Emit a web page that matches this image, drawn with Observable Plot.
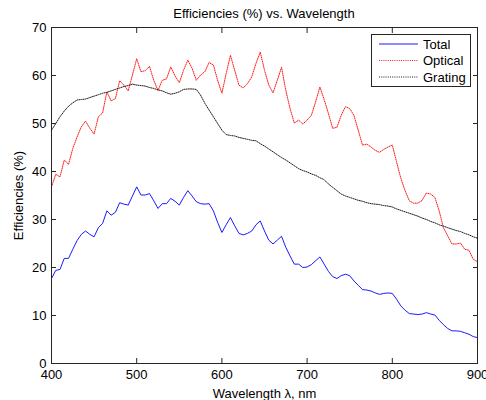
<!DOCTYPE html>
<html>
<head>
<meta charset="utf-8">
<script src="https://cdn.jsdelivr.net/npm/d3@7"></script>
<script src="https://cdn.jsdelivr.net/npm/@observablehq/plot@0.6"></script>
<style>
  body { margin: 0; background: #fff; font-family: "Liberation Sans", Arial, sans-serif; }
  #wrap { position: relative; width: 486px; height: 400px; }
  #title { height: 20px; padding-left: 51px; padding-right: 9px; text-align: center; font-size: 13px; line-height: 27px; color: #000; white-space: nowrap; }
  #legend { position: absolute; left: 371px; top: 34px; }
  #legend svg { display: block; }
</style>
</head>
<body>
<div id="wrap">
  <div id="title">Efficiencies (%) vs. Wavelength</div>
  <div id="chart"></div>
  <div id="legend"></div>
</div>
<script>
// Wavelength grid (nm), sampled every 5 nm
const wavelength = d3.range(400, 901, 5);

// Efficiencies (%) per wavelength
const total = [
  17.7, 19.4, 19.6, 21.9, 21.9, 23.8, 25.6, 26.9, 27.6, 26.9,
  26.4, 28.3, 29.2, 31.8, 30.9, 31.5, 33.5, 33.2, 33.0, 34.9,
  36.8, 35.1, 35.1, 35.4, 33.9, 32.3, 33.3, 33.3, 34.4, 33.8,
  33.0, 34.6, 36.0, 34.9, 33.7, 33.3, 33.2, 33.3, 31.8, 29.4,
  27.3, 28.9, 30.4, 28.7, 27.1, 26.8, 27.1, 27.6, 28.9, 29.7,
  27.6, 25.7, 24.9, 25.7, 26.5, 24.2, 22.4, 20.7, 20.7, 20.0,
  20.1, 20.6, 21.4, 22.2, 20.7, 19.2, 18.1, 17.7, 18.3, 18.6,
  18.3, 17.2, 16.3, 15.4, 15.3, 15.1, 14.7, 14.4, 14.6, 14.7,
  14.6, 13.4, 12.0, 11.1, 10.4, 10.3, 10.2, 10.3, 10.6, 10.3,
  10.1, 9.0, 8.1, 7.3, 6.8, 6.8, 6.7, 6.4, 6.1, 5.6,
  5.4
];
const optical = [
  36.8, 39.4, 38.9, 42.4, 41.5, 44.8, 47.2, 49.3, 50.5, 49.0,
  47.8, 51.4, 52.2, 56.6, 54.7, 55.2, 58.9, 58.0, 56.8, 60.1,
  63.5, 60.8, 61.0, 61.9, 59.0, 56.9, 59.0, 59.3, 61.8, 59.9,
  58.5, 61.1, 63.2, 61.5, 59.0, 60.1, 60.8, 62.7, 62.2, 59.0,
  56.3, 60.4, 64.2, 61.1, 58.0, 57.4, 58.3, 59.7, 62.5, 64.9,
  61.1, 58.0, 56.4, 59.0, 61.7, 56.9, 53.1, 50.1, 50.7, 49.9,
  50.7, 51.7, 54.5, 57.6, 55.0, 52.1, 49.0, 49.2, 51.7, 53.5,
  53.1, 51.7, 48.6, 45.5, 45.7, 45.1, 44.4, 44.0, 44.6, 45.1,
  45.5, 42.0, 38.6, 36.0, 33.9, 33.4, 33.4, 34.0, 35.5, 35.3,
  34.6, 31.8, 28.3, 26.6, 24.9, 24.9, 25.1, 23.8, 23.6, 21.7,
  21.2
];
const grating = [
  48.6, 50.0, 51.4, 52.6, 53.6, 54.3, 54.9, 55.0, 55.1, 55.4,
  55.7, 56.0, 56.3, 56.5, 56.8, 57.1, 57.4, 57.7, 57.9, 58.2,
  58.0, 57.9, 57.8, 57.5, 57.3, 57.0, 56.8, 56.4, 56.1, 56.3,
  56.6, 57.1, 57.2, 57.2, 57.1, 55.9, 54.2, 52.8, 51.4, 50.0,
  48.6, 47.7, 47.5, 47.4, 47.1, 46.9, 46.7, 46.5, 46.4, 45.8,
  45.3, 44.7, 44.1, 43.5, 42.9, 42.4, 41.8, 41.2, 40.6, 40.2,
  39.9, 39.5, 39.2, 38.7, 38.3, 37.4, 36.7, 36.0, 35.3, 34.9,
  34.6, 34.3, 34.0, 33.8, 33.5, 33.3, 33.2, 33.1, 32.9, 32.8,
  32.6, 32.2, 31.9, 31.6, 31.3, 31.0, 30.7, 30.3, 30.0, 29.6,
  29.3, 28.9, 28.6, 28.3, 28.0, 27.7, 27.5, 27.1, 26.8, 26.4,
  26.1
];

const xTicks = [400, 500, 600, 700, 800, 900];
const yTicks = [0, 10, 20, 30, 40, 50, 60, 70];

const seriesNames = ["Total", "Optical", "Grating"];
const seriesColors = ["#0000ff", "#ff0000", "#000000"];
const seriesDash = [null, "1,1.2", "1,1.2"];

const rows = wavelength.map((w, i) => ({w, total: total[i], optical: optical[i], grating: grating[i]}));

const axisColor = "#262626";
const blank = () => "";

const chart = Plot.plot({
  width: 486,
  height: 380,
  marginTop: 7,
  marginBottom: 37,
  marginLeft: 51,
  marginRight: 9,
  style: {fontFamily: "'Liberation Sans', Arial, sans-serif", fontSize: "13px", color: "#000", background: "#fff", overflow: "visible"},
  x: {domain: [400, 900]},
  y: {domain: [0, 70]},
  marks: [
    Plot.line(rows, {x: "w", y: "total", stroke: seriesColors[0], strokeWidth: 0.9}),
    Plot.line(rows, {x: "w", y: "optical", stroke: seriesColors[1], strokeWidth: 0.9, strokeDasharray: seriesDash[1]}),
    Plot.line(rows, {x: "w", y: "grating", stroke: seriesColors[2], strokeWidth: 0.9, strokeDasharray: seriesDash[2]}),
    // inward ticks on all four sides
    Plot.axisX({ticks: xTicks, tickSize: -5, tickFormat: blank, label: null, stroke: axisColor}),
    Plot.axisX({anchor: "top", ticks: xTicks, tickSize: -5, tickFormat: blank, label: null, stroke: axisColor}),
    Plot.axisY({ticks: yTicks, tickSize: -5, tickFormat: blank, label: null, stroke: axisColor}),
    Plot.axisY({anchor: "right", ticks: yTicks, tickSize: -5, tickFormat: blank, label: null, stroke: axisColor}),
    // tick labels and axis titles
    Plot.axisX({ticks: xTicks, tickSize: 0, tickPadding: 6, label: "Wavelength λ, nm", labelAnchor: "center", labelOffset: 34, labelArrow: "none"}),
    Plot.axisY({ticks: yTicks, tickSize: 0, tickPadding: 5, label: "Efficiencies (%)", labelAnchor: "center", labelOffset: 38, labelArrow: "none"}),
    Plot.frame({stroke: axisColor})
  ]
});
document.getElementById("chart").append(chart);

// Legend box inside the axes, top-right
const lg = d3.select("#legend").append("svg")
  .attr("width", 100).attr("height", 53)
  .style("font-family", "'Liberation Sans', Arial, sans-serif")
  .style("font-size", "13px");
lg.append("rect").attr("x", 0.5).attr("y", 0.5).attr("width", 99).attr("height", 52)
  .attr("fill", "#fff").attr("stroke", axisColor);
seriesNames.forEach((name, i) => {
  const cy = 10 + i * 16.5;
  lg.append("line").attr("x1", 8).attr("x2", 47).attr("y1", cy).attr("y2", cy)
    .attr("stroke", seriesColors[i]).attr("stroke-width", 0.9)
    .attr("stroke-dasharray", seriesDash[i]);
  lg.append("text").attr("x", 52).attr("y", cy).attr("dy", "0.36em").attr("fill", "#000").text(name);
});
</script>
</body>
</html>
